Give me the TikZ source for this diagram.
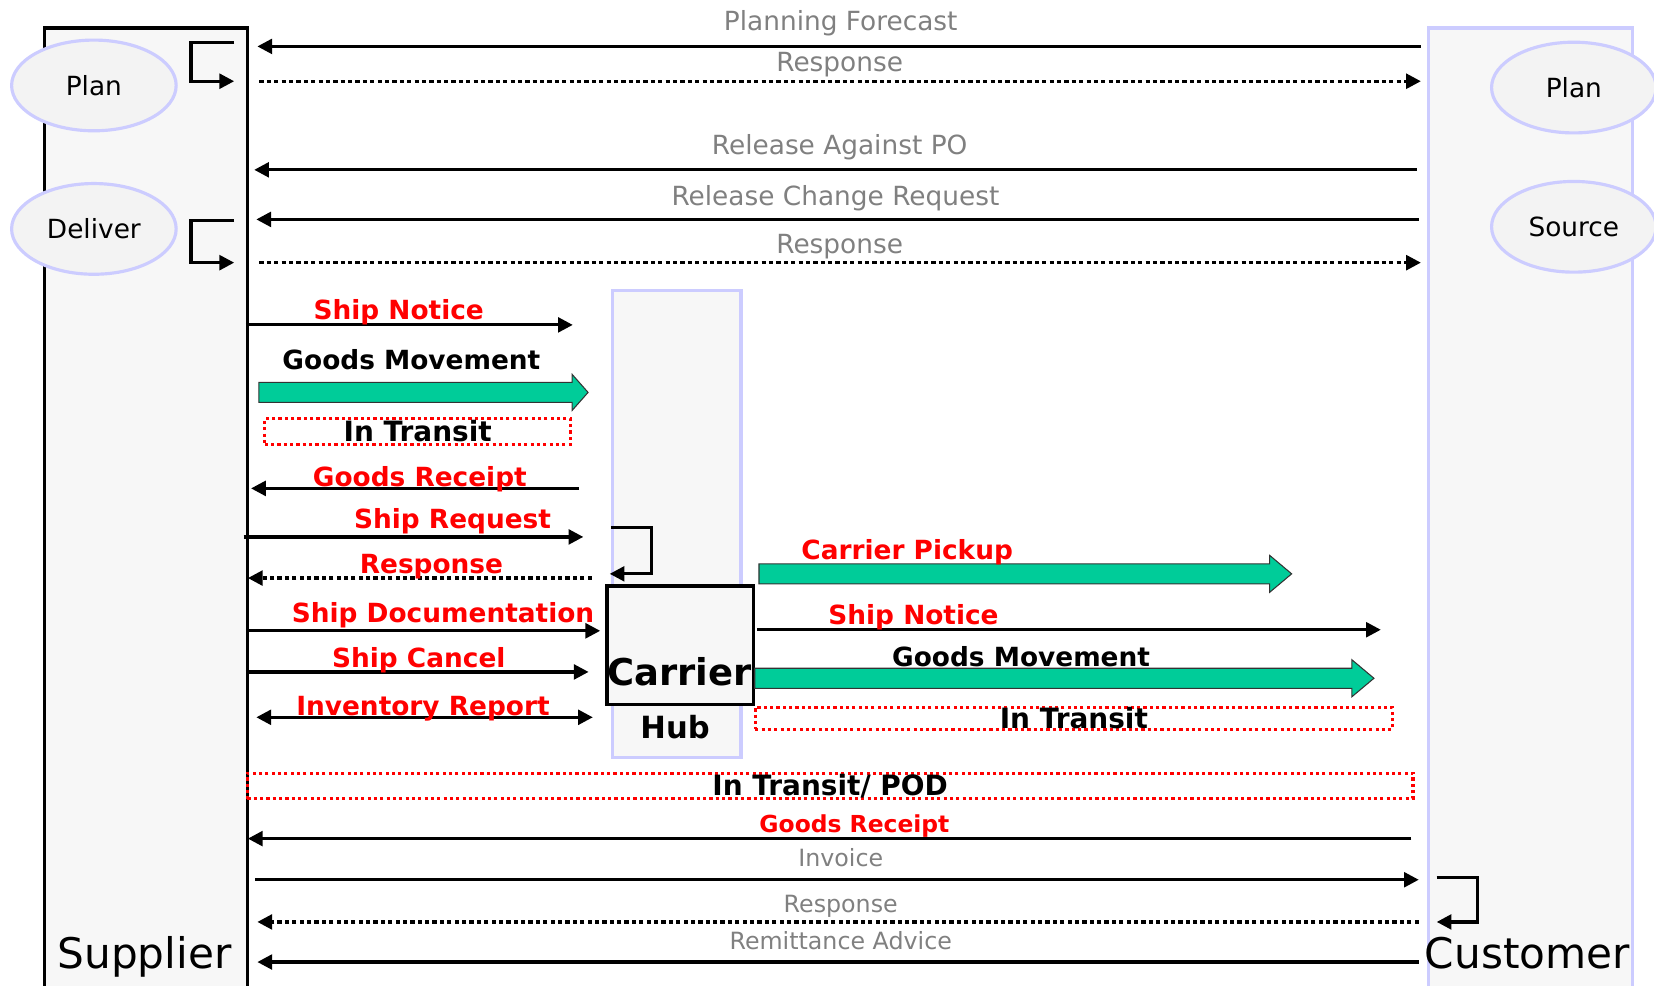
\documentclass[tikz,border=0pt]{standalone}
\usepackage{fontspec}
\setmainfont{DejaVu Sans}
\definecolor{lanefill}{RGB}{247,247,247}
\definecolor{rolefill}{RGB}{243,243,243}
\definecolor{lavender}{RGB}{204,204,255}
\definecolor{goods}{RGB}{0,204,153}
\definecolor{msggray}{RGB}{128,128,128}
\usetikzlibrary{arrows.meta}
\usetikzlibrary{shapes.geometric}
\usetikzlibrary{shapes.arrows}
\tikzset{
  lane/.style={draw=black, line width=3pt, fill=lanefill, anchor=north west, inner sep=0},
  hublane/.style={lane, draw=lavender},
  role/.style={ellipse, draw=lavender, line width=3pt, fill=rolefill,
    minimum width=156pt, minimum height=86pt, inner sep=0,
    font=\fontsize{25}{30}\selectfont},
  msg/.style={->, >={Triangle[length=14pt,width=14pt]}, line width=3pt},
  reply/.style={msg, dash pattern=on 4pt off 3pt},
  graylbl/.style={text=msggray, inner sep=0, text height=18pt, text depth=0pt,
    font=\fontsize{25}{30}\selectfont},
  smallgray/.style={graylbl, text height=16.4pt, font=\fontsize{22.5}{27}\selectfont},
  redlbl/.style={text=red, inner sep=0, text height=18pt, text depth=0pt,
    font=\bfseries\fontsize{25}{30}\selectfont},
  blklbl/.style={redlbl, text=black},
  transit/.style={draw=red, line width=3pt, dash pattern=on 3pt off 3pt,
    inner sep=0, text height=19pt, text depth=0pt,
    font=\bfseries\fontsize{26.5}{31}\selectfont},
  goodsarrow/.style={single arrow, draw=black!80, fill=goods, line width=1pt,
    inner xsep=0pt, inner ysep=9pt, single arrow head extend=7.5pt,
    single arrow tip angle=97, anchor=tail},
  lanename/.style={inner sep=0, text height=29pt, text depth=0pt,
    font=\fontsize{40}{48}\selectfont}
}
\begin{document}
\begin{tikzpicture}[x=1pt, y=-1pt]
  \clip (0,0) rectangle (1568,934);
  % lanes
  \node[lane, minimum width=192pt, minimum height=940pt] (supplier) at (41,25) {};
  \node[hublane, minimum width=193pt, minimum height=940pt] (customer) at (1353,25) {};
  \node[hublane, minimum width=122pt, minimum height=443pt] (hub) at (579,274) {};
  \node[lane, minimum width=139pt, minimum height=112pt] (carrier) at (574,554) {};
  \node[lanename] (suplbl) at (137,904) {Supplier};
  \node[lanename] (cuslbl) at (1448,904) {Customer};
  \node[blklbl, text height=25pt, font=\bfseries\fontsize{35}{42}\selectfont] (carlbl) at (644,637) {Carrier};
  \node[blklbl, text height=21pt, font=\bfseries\fontsize{29}{35}\selectfont] (hublbl) at (640,690) {Hub};

  % processes
  \node[role] (splan) at (89,81) {Plan};
  \node[role] (sdeliver) at (89,217) {Deliver};
  \node[role] (cplan) at (1492,83) {Plan};
  \node[role] (csource) at (1492,215) {Source};

  % supplier <-> customer, top
  \coordinate (pfA) at (1347,44);  \coordinate (pfB) at (244,44);
  \coordinate (r1A) at (246,77);   \coordinate (r1B) at (1347,77);
  \coordinate (rpA) at (1343,161); \coordinate (rpB) at (241,161);
  \coordinate (rcA) at (1345,208); \coordinate (rcB) at (243,208);
  \coordinate (r2A) at (246,249);  \coordinate (r2B) at (1347,249);
  \coordinate (lp1A) at (222,40);  \coordinate (lp1B) at (222,77);
  \coordinate (lp2A) at (222,209); \coordinate (lp2B) at (222,249);
  \draw[msg] (pfA) -- (pfB);
  \draw[reply] (r1A) -- (r1B);
  \draw[msg] (rpA) -- (rpB);
  \draw[msg] (rcA) -- (rcB);
  \draw[reply] (r2A) -- (r2B);
  \draw[msg] (lp1A) -- ++(-41,0) |- (lp1B);
  \draw[msg] (lp2A) -- ++(-41,0) |- (lp2B);
  \node[graylbl] (pflbl) at (797,20) {Planning Forecast};
  \node[graylbl] (r1lbl) at (796,59) {Response};
  \node[graylbl] (rplbl) at (796,137) {Release Against PO};
  \node[graylbl] (rclbl) at (792,186) {Release Change Request};
  \node[graylbl] (r2lbl) at (796,231) {Response};

  % supplier <-> carrier hub
  \coordinate (snA) at (233,308); \coordinate (snB) at (543,308);
  \coordinate (grA) at (549,463); \coordinate (grB) at (238,463);
  \coordinate (srA) at (231,509); \coordinate (srB) at (553,509);
  \coordinate (hlA) at (579,500); \coordinate (hlB) at (578,544);
  \coordinate (rrA) at (561,548); \coordinate (rrB) at (235,548);
  \coordinate (sdA) at (233,598); \coordinate (sdB) at (569,598);
  \coordinate (scA) at (233,637); \coordinate (scB) at (558,637);
  \coordinate (irA) at (243,680); \coordinate (irB) at (562,680);
  \draw[msg] (snA) -- (snB);
  \node[goodsarrow, minimum height=312pt] (gm1) at (245,372) {};
  \node[transit, minimum width=290pt, minimum height=24pt] (tr1) at (396,409) {In Transit};
  \draw[msg] (grA) -- (grB);
  \draw[msg] (srA) -- (srB);
  \draw[msg] (hlA) -- ++(39,0) |- (hlB);
  \draw[reply] (rrA) -- (rrB);
  \draw[msg] (sdA) -- (sdB);
  \draw[msg] (scA) -- (scB);
  \draw[msg, <->] (irA) -- (irB);
  \node[redlbl] (snlbl) at (378,294) {Ship Notice};
  \node[blklbl] (gm1lbl) at (390,341) {Goods Movement};
  \node[redlbl] (grlbl) at (398,452) {Goods Receipt};
  \node[redlbl] (srlbl) at (429,492) {Ship Request};
  \node[redlbl] (rrlbl) at (409,535) {Response};
  \node[redlbl] (sdlbl) at (420,581) {Ship Documentation};
  \node[redlbl] (sclbl) at (397,624) {Ship Cancel};
  \node[redlbl] (irlbl) at (401,669) {Inventory Report};

  % carrier hub -> customer
  \coordinate (sn2A) at (718,597); \coordinate (sn2B) at (1309,597);
  \node[goodsarrow, minimum height=505pt, single arrow tip angle=80, single arrow head extend=8pt] (cp) at (719,544) {};
  \draw[msg] (sn2A) -- (sn2B);
  \node[goodsarrow, minimum height=587pt, single arrow tip angle=80, single arrow head extend=8pt] (gm2) at (715,643) {};
  \node[transit, minimum width=604pt, minimum height=21pt] (tr2) at (1018,681) {In Transit};
  \node[redlbl] (cplbl) at (860,521) {Carrier Pickup};
  \node[redlbl] (sn2lbl) at (866,583) {Ship Notice};
  \node[blklbl] (gm2lbl) at (968,623) {Goods Movement};

  % supplier <-> customer, bottom
  \node[transit, minimum width=1105pt, minimum height=24pt] (pod) at (787,745) {In Transit/ POD};
  \coordinate (gr2A) at (1338,795); \coordinate (gr2B) at (235,795);
  \coordinate (invA) at (242,834);  \coordinate (invB) at (1345,834);
  \coordinate (clA) at (1362,832);  \coordinate (clB) at (1362,874);
  \coordinate (r3A) at (1345,874);  \coordinate (r3B) at (244,874);
  \coordinate (raA) at (1345,912);  \coordinate (raB) at (244,912);
  \draw[msg] (gr2A) -- (gr2B);
  \draw[msg] (invA) -- (invB);
  \draw[msg] (clA) -- ++(39,0) |- (clB);
  \draw[reply] (r3A) -- (r3B);
  \draw[msg] (raA) -- (raB);
  \node[redlbl, text height=16pt, font=\bfseries\fontsize{22.2}{27}\selectfont] (gr2lbl) at (810,781) {Goods Receipt};
  \node[smallgray] (invlbl) at (797,813) {Invoice};
  \node[smallgray] (r3lbl) at (797,857) {Response};
  \node[smallgray] (ralbl) at (797,892) {Remittance Advice};
\end{tikzpicture}
\end{document}
